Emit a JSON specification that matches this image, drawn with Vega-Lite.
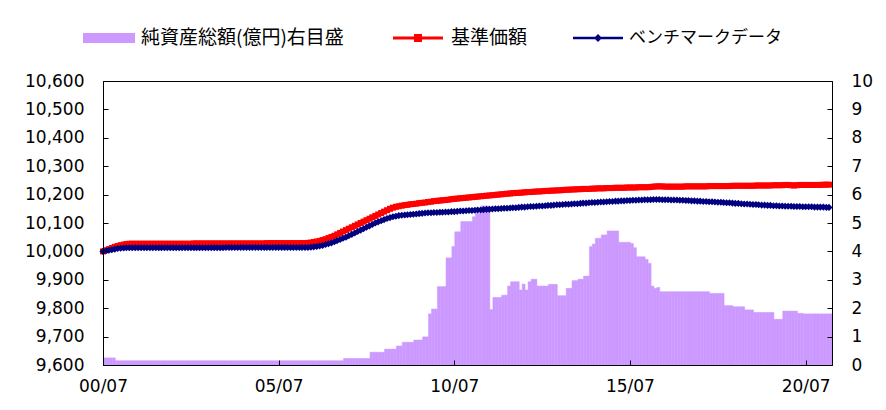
{
  "$schema": "https://vega.github.io/schema/vega-lite/v6.json",
  "width": 729,
  "height": 284,
  "autosize": {"type": "none"},
  "padding": {"left": 103, "top": 81, "right": 54, "bottom": 45},
  "background": "white",
  "config": {
    "font": "Noto Sans CJK JP",
    "view": {"stroke": "#000000", "strokeWidth": 1},
    "axis": {"labelColor": "#000", "labelFont": "DejaVu Sans", "labelFontSize": 17, "grid": false, "domain": true, "ticks": true, "domainColor": "black", "tickColor": "black", "domainWidth": 1, "tickWidth": 1},
    "legend": {"labelFont": "Noto Sans CJK JP", "labelFontSize": 18, "labelColor": "#000", "padding": 0, "labelLimit": 0}
  },
  "data": {"values": [
{"d":"2000-07-01","n":10000,"b":10000,"a":0.25},
{"d":"2000-08-01","n":10004,"b":10002,"a":0.25},
{"d":"2000-09-01","n":10008,"b":10004,"a":0.25},
{"d":"2000-10-01","n":10012,"b":10006,"a":0.25},
{"d":"2000-11-01","n":10016,"b":10008,"a":0.15},
{"d":"2000-12-01","n":10019,"b":10010,"a":0.15},
{"d":"2001-01-01","n":10022,"b":10011,"a":0.15},
{"d":"2001-02-01","n":10024,"b":10012,"a":0.15},
{"d":"2001-03-01","n":10026,"b":10013,"a":0.15},
{"d":"2001-04-01","n":10027,"b":10013,"a":0.15},
{"d":"2001-05-01","n":10027,"b":10013,"a":0.15},
{"d":"2001-06-01","n":10027,"b":10013,"a":0.15},
{"d":"2001-07-01","n":10027,"b":10013,"a":0.15},
{"d":"2001-08-01","n":10027,"b":10013,"a":0.15},
{"d":"2001-09-01","n":10027,"b":10013,"a":0.15},
{"d":"2001-10-01","n":10027,"b":10013,"a":0.15},
{"d":"2001-11-01","n":10027,"b":10013,"a":0.15},
{"d":"2001-12-01","n":10027,"b":10013,"a":0.15},
{"d":"2002-01-01","n":10027,"b":10013,"a":0.15},
{"d":"2002-02-01","n":10027,"b":10013,"a":0.15},
{"d":"2002-03-01","n":10027,"b":10013,"a":0.15},
{"d":"2002-04-01","n":10027,"b":10013,"a":0.15},
{"d":"2002-05-01","n":10027,"b":10013,"a":0.15},
{"d":"2002-06-01","n":10027,"b":10013,"a":0.15},
{"d":"2002-07-01","n":10027,"b":10013,"a":0.15},
{"d":"2002-08-01","n":10027,"b":10013,"a":0.15},
{"d":"2002-09-01","n":10027,"b":10013,"a":0.15},
{"d":"2002-10-01","n":10027,"b":10013,"a":0.15},
{"d":"2002-11-01","n":10027,"b":10013,"a":0.15},
{"d":"2002-12-01","n":10027,"b":10013,"a":0.15},
{"d":"2003-01-01","n":10027,"b":10013,"a":0.15},
{"d":"2003-02-01","n":10028,"b":10013,"a":0.15},
{"d":"2003-03-01","n":10028,"b":10013,"a":0.15},
{"d":"2003-04-01","n":10028,"b":10013,"a":0.15},
{"d":"2003-05-01","n":10028,"b":10013,"a":0.15},
{"d":"2003-06-01","n":10028,"b":10013,"a":0.15},
{"d":"2003-07-01","n":10028,"b":10013,"a":0.15},
{"d":"2003-08-01","n":10028,"b":10013,"a":0.15},
{"d":"2003-09-01","n":10028,"b":10013,"a":0.15},
{"d":"2003-10-01","n":10028,"b":10013,"a":0.15},
{"d":"2003-11-01","n":10028,"b":10013,"a":0.15},
{"d":"2003-12-01","n":10028,"b":10013,"a":0.15},
{"d":"2004-01-01","n":10028,"b":10014,"a":0.15},
{"d":"2004-02-01","n":10028,"b":10014,"a":0.15},
{"d":"2004-03-01","n":10028,"b":10014,"a":0.15},
{"d":"2004-04-01","n":10028,"b":10014,"a":0.15},
{"d":"2004-05-01","n":10028,"b":10014,"a":0.15},
{"d":"2004-06-01","n":10028,"b":10014,"a":0.15},
{"d":"2004-07-01","n":10028,"b":10014,"a":0.15},
{"d":"2004-08-01","n":10028,"b":10014,"a":0.15},
{"d":"2004-09-01","n":10028,"b":10014,"a":0.15},
{"d":"2004-10-01","n":10028,"b":10014,"a":0.15},
{"d":"2004-11-01","n":10028,"b":10014,"a":0.15},
{"d":"2004-12-01","n":10028,"b":10014,"a":0.15},
{"d":"2005-01-01","n":10028,"b":10014,"a":0.15},
{"d":"2005-02-01","n":10028,"b":10014,"a":0.15},
{"d":"2005-03-01","n":10029,"b":10014,"a":0.15},
{"d":"2005-04-01","n":10029,"b":10014,"a":0.15},
{"d":"2005-05-01","n":10029,"b":10014,"a":0.15},
{"d":"2005-06-01","n":10029,"b":10014,"a":0.15},
{"d":"2005-07-01","n":10029,"b":10014,"a":0.15},
{"d":"2005-08-01","n":10029,"b":10014,"a":0.15},
{"d":"2005-09-01","n":10029,"b":10014,"a":0.15},
{"d":"2005-10-01","n":10029,"b":10014,"a":0.15},
{"d":"2005-11-01","n":10029,"b":10014,"a":0.15},
{"d":"2005-12-01","n":10029,"b":10014,"a":0.15},
{"d":"2006-01-01","n":10029,"b":10014,"a":0.15},
{"d":"2006-02-01","n":10029,"b":10014,"a":0.15},
{"d":"2006-03-01","n":10029,"b":10014,"a":0.15},
{"d":"2006-04-01","n":10029,"b":10014,"a":0.15},
{"d":"2006-05-01","n":10030,"b":10014,"a":0.15},
{"d":"2006-06-01","n":10031,"b":10015,"a":0.15},
{"d":"2006-07-01","n":10033,"b":10016,"a":0.15},
{"d":"2006-08-01","n":10035,"b":10017,"a":0.15},
{"d":"2006-09-01","n":10037,"b":10019,"a":0.15},
{"d":"2006-10-01","n":10040,"b":10021,"a":0.15},
{"d":"2006-11-01","n":10043,"b":10024,"a":0.15},
{"d":"2006-12-01","n":10047,"b":10027,"a":0.15},
{"d":"2007-01-01","n":10051,"b":10030,"a":0.15},
{"d":"2007-02-01","n":10055,"b":10034,"a":0.15},
{"d":"2007-03-01","n":10060,"b":10038,"a":0.15},
{"d":"2007-04-01","n":10065,"b":10042,"a":0.15},
{"d":"2007-05-01","n":10070,"b":10046,"a":0.23},
{"d":"2007-06-01","n":10075,"b":10050,"a":0.23},
{"d":"2007-07-01","n":10080,"b":10055,"a":0.23},
{"d":"2007-08-01","n":10085,"b":10060,"a":0.23},
{"d":"2007-09-01","n":10090,"b":10065,"a":0.23},
{"d":"2007-10-01","n":10095,"b":10070,"a":0.23},
{"d":"2007-11-01","n":10100,"b":10075,"a":0.23},
{"d":"2007-12-01","n":10105,"b":10080,"a":0.23},
{"d":"2008-01-01","n":10110,"b":10085,"a":0.23},
{"d":"2008-02-01","n":10115,"b":10090,"a":0.45},
{"d":"2008-03-01","n":10120,"b":10095,"a":0.45},
{"d":"2008-04-01","n":10125,"b":10100,"a":0.45},
{"d":"2008-05-01","n":10130,"b":10104,"a":0.45},
{"d":"2008-06-01","n":10135,"b":10108,"a":0.45},
{"d":"2008-07-01","n":10140,"b":10112,"a":0.56},
{"d":"2008-08-01","n":10145,"b":10116,"a":0.56},
{"d":"2008-09-01","n":10150,"b":10119,"a":0.56},
{"d":"2008-10-01","n":10154,"b":10122,"a":0.56},
{"d":"2008-11-01","n":10157,"b":10124,"a":0.67},
{"d":"2008-12-01","n":10159,"b":10126,"a":0.67},
{"d":"2009-01-01","n":10161,"b":10127,"a":0.8},
{"d":"2009-02-01","n":10163,"b":10128,"a":0.8},
{"d":"2009-03-01","n":10164,"b":10129,"a":0.8},
{"d":"2009-04-01","n":10166,"b":10130,"a":0.8},
{"d":"2009-05-01","n":10167,"b":10131,"a":0.88},
{"d":"2009-06-01","n":10168,"b":10132,"a":0.88},
{"d":"2009-07-01","n":10170,"b":10133,"a":0.88},
{"d":"2009-08-01","n":10171,"b":10134,"a":0.99},
{"d":"2009-09-01","n":10172,"b":10135,"a":0.99},
{"d":"2009-10-01","n":10174,"b":10136,"a":1.8},
{"d":"2009-11-01","n":10175,"b":10136,"a":1.97},
{"d":"2009-12-01","n":10177,"b":10137,"a":1.97},
{"d":"2010-01-01","n":10178,"b":10137,"a":2.76},
{"d":"2010-02-01","n":10179,"b":10138,"a":2.76},
{"d":"2010-03-01","n":10180,"b":10138,"a":2.76},
{"d":"2010-04-01","n":10181,"b":10139,"a":3.77},
{"d":"2010-05-01","n":10182,"b":10139,"a":3.77},
{"d":"2010-06-01","n":10184,"b":10140,"a":4.17},
{"d":"2010-07-01","n":10185,"b":10140,"a":4.69},
{"d":"2010-08-01","n":10186,"b":10141,"a":4.69},
{"d":"2010-09-01","n":10187,"b":10142,"a":5.05},
{"d":"2010-10-01","n":10188,"b":10142,"a":5.05},
{"d":"2010-11-01","n":10189,"b":10143,"a":5.05},
{"d":"2010-12-01","n":10190,"b":10144,"a":5.05},
{"d":"2011-01-01","n":10191,"b":10144,"a":5.22},
{"d":"2011-02-01","n":10192,"b":10145,"a":5.34},
{"d":"2011-03-01","n":10193,"b":10146,"a":5.34},
{"d":"2011-04-01","n":10194,"b":10146,"a":5.6},
{"d":"2011-05-01","n":10195,"b":10147,"a":5.6},
{"d":"2011-06-01","n":10196,"b":10148,"a":5.6},
{"d":"2011-07-01","n":10197,"b":10148,"a":1.95},
{"d":"2011-08-01","n":10198,"b":10149,"a":2.38},
{"d":"2011-09-01","n":10199,"b":10150,"a":2.38},
{"d":"2011-10-01","n":10200,"b":10150,"a":2.38},
{"d":"2011-11-01","n":10201,"b":10151,"a":2.46},
{"d":"2011-12-01","n":10202,"b":10152,"a":2.46},
{"d":"2012-01-01","n":10203,"b":10152,"a":2.78},
{"d":"2012-02-01","n":10204,"b":10153,"a":2.93},
{"d":"2012-03-01","n":10205,"b":10154,"a":2.93},
{"d":"2012-04-01","n":10206,"b":10154,"a":2.93},
{"d":"2012-05-01","n":10206,"b":10155,"a":2.64},
{"d":"2012-06-01","n":10207,"b":10156,"a":2.85},
{"d":"2012-07-01","n":10208,"b":10156,"a":2.64},
{"d":"2012-08-01","n":10209,"b":10157,"a":2.93},
{"d":"2012-09-01","n":10209,"b":10158,"a":3.02},
{"d":"2012-10-01","n":10210,"b":10158,"a":3.02},
{"d":"2012-11-01","n":10211,"b":10159,"a":2.78},
{"d":"2012-12-01","n":10211,"b":10160,"a":2.78},
{"d":"2013-01-01","n":10212,"b":10160,"a":2.78},
{"d":"2013-02-01","n":10213,"b":10161,"a":2.78},
{"d":"2013-03-01","n":10213,"b":10162,"a":2.84},
{"d":"2013-04-01","n":10214,"b":10162,"a":2.84},
{"d":"2013-05-01","n":10214,"b":10163,"a":2.84},
{"d":"2013-06-01","n":10215,"b":10164,"a":2.44},
{"d":"2013-07-01","n":10215,"b":10164,"a":2.44},
{"d":"2013-08-01","n":10216,"b":10165,"a":2.44},
{"d":"2013-09-01","n":10217,"b":10166,"a":2.7},
{"d":"2013-10-01","n":10217,"b":10166,"a":2.7},
{"d":"2013-11-01","n":10218,"b":10167,"a":2.97},
{"d":"2013-12-01","n":10218,"b":10168,"a":2.97},
{"d":"2014-01-01","n":10219,"b":10168,"a":3.02},
{"d":"2014-02-01","n":10219,"b":10169,"a":3.02},
{"d":"2014-03-01","n":10220,"b":10170,"a":3.13},
{"d":"2014-04-01","n":10220,"b":10170,"a":3.13},
{"d":"2014-05-01","n":10220,"b":10171,"a":4.17},
{"d":"2014-06-01","n":10221,"b":10172,"a":4.26},
{"d":"2014-07-01","n":10221,"b":10172,"a":4.46},
{"d":"2014-08-01","n":10222,"b":10173,"a":4.46},
{"d":"2014-09-01","n":10222,"b":10174,"a":4.58},
{"d":"2014-10-01","n":10222,"b":10174,"a":4.58},
{"d":"2014-11-01","n":10223,"b":10175,"a":4.72},
{"d":"2014-12-01","n":10223,"b":10176,"a":4.72},
{"d":"2015-01-01","n":10223,"b":10176,"a":4.72},
{"d":"2015-02-01","n":10224,"b":10177,"a":4.72},
{"d":"2015-03-01","n":10224,"b":10177,"a":4.32},
{"d":"2015-04-01","n":10224,"b":10178,"a":4.32},
{"d":"2015-05-01","n":10224,"b":10178,"a":4.32},
{"d":"2015-06-01","n":10225,"b":10179,"a":4.32},
{"d":"2015-07-01","n":10225,"b":10179,"a":4.28},
{"d":"2015-08-01","n":10225,"b":10180,"a":4.13},
{"d":"2015-09-01","n":10225,"b":10180,"a":3.81},
{"d":"2015-10-01","n":10226,"b":10181,"a":3.81},
{"d":"2015-11-01","n":10226,"b":10181,"a":3.81},
{"d":"2015-12-01","n":10226,"b":10182,"a":3.72},
{"d":"2016-01-01","n":10226,"b":10182,"a":3.58},
{"d":"2016-02-01","n":10227,"b":10182,"a":2.78},
{"d":"2016-03-01","n":10228,"b":10183,"a":2.7},
{"d":"2016-04-01","n":10229,"b":10183,"a":2.73},
{"d":"2016-05-01","n":10229,"b":10183,"a":2.58},
{"d":"2016-06-01","n":10229,"b":10182,"a":2.58},
{"d":"2016-07-01","n":10228,"b":10182,"a":2.58},
{"d":"2016-08-01","n":10228,"b":10182,"a":2.58},
{"d":"2016-09-01","n":10228,"b":10181,"a":2.58},
{"d":"2016-10-01","n":10228,"b":10181,"a":2.58},
{"d":"2016-11-01","n":10228,"b":10181,"a":2.58},
{"d":"2016-12-01","n":10228,"b":10180,"a":2.58},
{"d":"2017-01-01","n":10228,"b":10180,"a":2.58},
{"d":"2017-02-01","n":10229,"b":10179,"a":2.58},
{"d":"2017-03-01","n":10229,"b":10179,"a":2.58},
{"d":"2017-04-01","n":10229,"b":10178,"a":2.58},
{"d":"2017-05-01","n":10229,"b":10178,"a":2.58},
{"d":"2017-06-01","n":10229,"b":10177,"a":2.58},
{"d":"2017-07-01","n":10229,"b":10177,"a":2.58},
{"d":"2017-08-01","n":10229,"b":10176,"a":2.58},
{"d":"2017-09-01","n":10229,"b":10176,"a":2.58},
{"d":"2017-10-01","n":10230,"b":10175,"a":2.52},
{"d":"2017-11-01","n":10230,"b":10175,"a":2.52},
{"d":"2017-12-01","n":10230,"b":10174,"a":2.52},
{"d":"2018-01-01","n":10230,"b":10173,"a":2.52},
{"d":"2018-02-01","n":10230,"b":10173,"a":2.52},
{"d":"2018-03-01","n":10230,"b":10172,"a":2.09},
{"d":"2018-04-01","n":10230,"b":10171,"a":2.09},
{"d":"2018-05-01","n":10230,"b":10171,"a":2.09},
{"d":"2018-06-01","n":10231,"b":10170,"a":2.05},
{"d":"2018-07-01","n":10231,"b":10169,"a":2.05},
{"d":"2018-08-01","n":10231,"b":10169,"a":2.05},
{"d":"2018-09-01","n":10231,"b":10168,"a":2.05},
{"d":"2018-10-01","n":10231,"b":10167,"a":1.94},
{"d":"2018-11-01","n":10231,"b":10167,"a":1.94},
{"d":"2018-12-01","n":10231,"b":10166,"a":1.94},
{"d":"2019-01-01","n":10231,"b":10165,"a":1.85},
{"d":"2019-02-01","n":10232,"b":10165,"a":1.85},
{"d":"2019-03-01","n":10232,"b":10164,"a":1.85},
{"d":"2019-04-01","n":10232,"b":10163,"a":1.85},
{"d":"2019-05-01","n":10232,"b":10163,"a":1.85},
{"d":"2019-06-01","n":10232,"b":10162,"a":1.85},
{"d":"2019-07-01","n":10232,"b":10162,"a":1.85},
{"d":"2019-08-01","n":10233,"b":10161,"a":1.61},
{"d":"2019-09-01","n":10233,"b":10161,"a":1.61},
{"d":"2019-10-01","n":10233,"b":10160,"a":1.61},
{"d":"2019-11-01","n":10233,"b":10160,"a":1.9},
{"d":"2019-12-01","n":10234,"b":10159,"a":1.9},
{"d":"2020-01-01","n":10234,"b":10159,"a":1.9},
{"d":"2020-02-01","n":10233,"b":10159,"a":1.9},
{"d":"2020-03-01","n":10232,"b":10158,"a":1.9},
{"d":"2020-04-01","n":10233,"b":10158,"a":1.82},
{"d":"2020-05-01","n":10234,"b":10158,"a":1.82},
{"d":"2020-06-01","n":10234,"b":10157,"a":1.8},
{"d":"2020-07-01","n":10234,"b":10157,"a":1.8},
{"d":"2020-08-01","n":10234,"b":10157,"a":1.8},
{"d":"2020-09-01","n":10234,"b":10157,"a":1.8},
{"d":"2020-10-01","n":10234,"b":10156,"a":1.8},
{"d":"2020-11-01","n":10234,"b":10156,"a":1.8},
{"d":"2020-12-01","n":10234,"b":10156,"a":1.8},
{"d":"2021-01-01","n":10235,"b":10156,"a":1.8},
{"d":"2021-02-01","n":10235,"b":10155,"a":1.8},
{"d":"2021-03-01","n":10235,"b":10155,"a":1.8}
  ]},
  "layer": [
    {
      "mark": {"type": "bar", "color": "#CC99FF", "stroke": "#CC99FF", "strokeWidth": 0.5, "binSpacing": 0},
      "encoding": {
        "x": {"field": "d", "type": "temporal", "timeUnit": "utcyearmonth",
          "scale": {"type": "utc", "nice": false, "domain": [{"year": 2000, "month": 7, "date": 1, "utc": true}, {"year": 2021, "month": 4, "date": 1, "utc": true}]},
          "axis": {"title": null, "values": [{"year": 2000, "month": 7, "date": 1, "utc": true}, {"year": 2005, "month": 7, "date": 1, "utc": true}, {"year": 2010, "month": 7, "date": 1, "utc": true}, {"year": 2015, "month": 7, "date": 1, "utc": true}, {"year": 2020, "month": 7, "date": 1, "utc": true}], "labelExpr": "utcFormat(datum.value, '%y/%m')", "labelFlush": false, "labelOverlap": false, "labelPadding": 18, "tickSize": -5, "zindex": 2}},
        "y": {"field": "a", "type": "quantitative", "scale": {"domain": [0, 10], "nice": false},
          "axis": {"title": null, "orient": "right", "values": [0,1,2,3,4,5,6,7,8,9,10], "labelExpr": "format(datum.value, 'd')", "labelPadding": 24, "tickSize": -5, "zindex": 2}},
        "fill": {"datum": "純資産総額(億円)右目盛", "scale": {"range": ["#CC99FF"]},
          "legend": {"title": null, "orient": "none", "legendX": -20, "legendY": -69, "symbolType": "M-1,-0.19H1V0.19H-1Z", "symbolSize": 2704, "symbolStrokeWidth": 0, "labelOffset": 6, "labelFontSize": 19}}
      }
    },
    {
      "layer": [
        {
          "mark": {"type": "line", "strokeWidth": 3, "point": {"shape": "square", "size": 36, "filled": true, "fill": "#FF0000", "strokeWidth": 0}},
          "encoding": {
            "x": {"field": "d", "type": "temporal", "timeUnit": "utcyearmonth"},
            "y": {"field": "n", "type": "quantitative", "scale": {"domain": [9600, 10600], "nice": false},
              "axis": {"title": null, "orient": "left", "values": [9600,9700,9800,9900,10000,10100,10200,10300,10400,10500,10600], "labelExpr": "format(datum.value, ',')", "labelPadding": 24, "tickSize": -5, "zindex": 2, "labelOverlap": false}},
            "stroke": {"datum": "基準価額", "scale": {"range": ["#FF0000"]},
              "legend": {"title": null, "orient": "none", "legendX": 290, "legendY": -68, "symbolType": "M-1,-0.06H1V0.06H-1Z M-0.16,-0.16H0.16V0.16H-0.16Z", "symbolSize": 2500, "symbolFillColor": "#FF0000", "symbolStrokeWidth": 0, "labelOffset": 8, "labelFontSize": 19}}
          }
        },
        {
          "mark": {"type": "line", "strokeWidth": 3, "point": {"shape": "diamond", "size": 50, "filled": true, "strokeWidth": 0}},
          "encoding": {
            "x": {"field": "d", "type": "temporal", "timeUnit": "utcyearmonth"},
            "y": {"field": "b", "type": "quantitative", "scale": {"domain": [9600, 10600], "nice": false},
              "axis": {"title": null, "orient": "left", "values": [9600,9700,9800,9900,10000,10100,10200,10300,10400,10500,10600], "labelExpr": "format(datum.value, ',')", "labelPadding": 24, "tickSize": -5, "zindex": 2, "labelOverlap": false}},
            "color": {"datum": "ベンチマークデータ", "scale": {"range": ["#000080"]},
              "legend": {"title": null, "orient": "none", "legendX": 470, "legendY": -68, "symbolType": "M-1,-0.05H1V0.05H-1Z M0,-0.16L0.16,0L0,0.16L-0.16,0Z", "symbolSize": 2500, "symbolFillColor": "#000080", "symbolStrokeWidth": 0, "labelOffset": 6, "labelFontSize": 17}}
          }
        }
      ]
    }
  ],
  "resolve": {"scale": {"y": "independent"}}
}
